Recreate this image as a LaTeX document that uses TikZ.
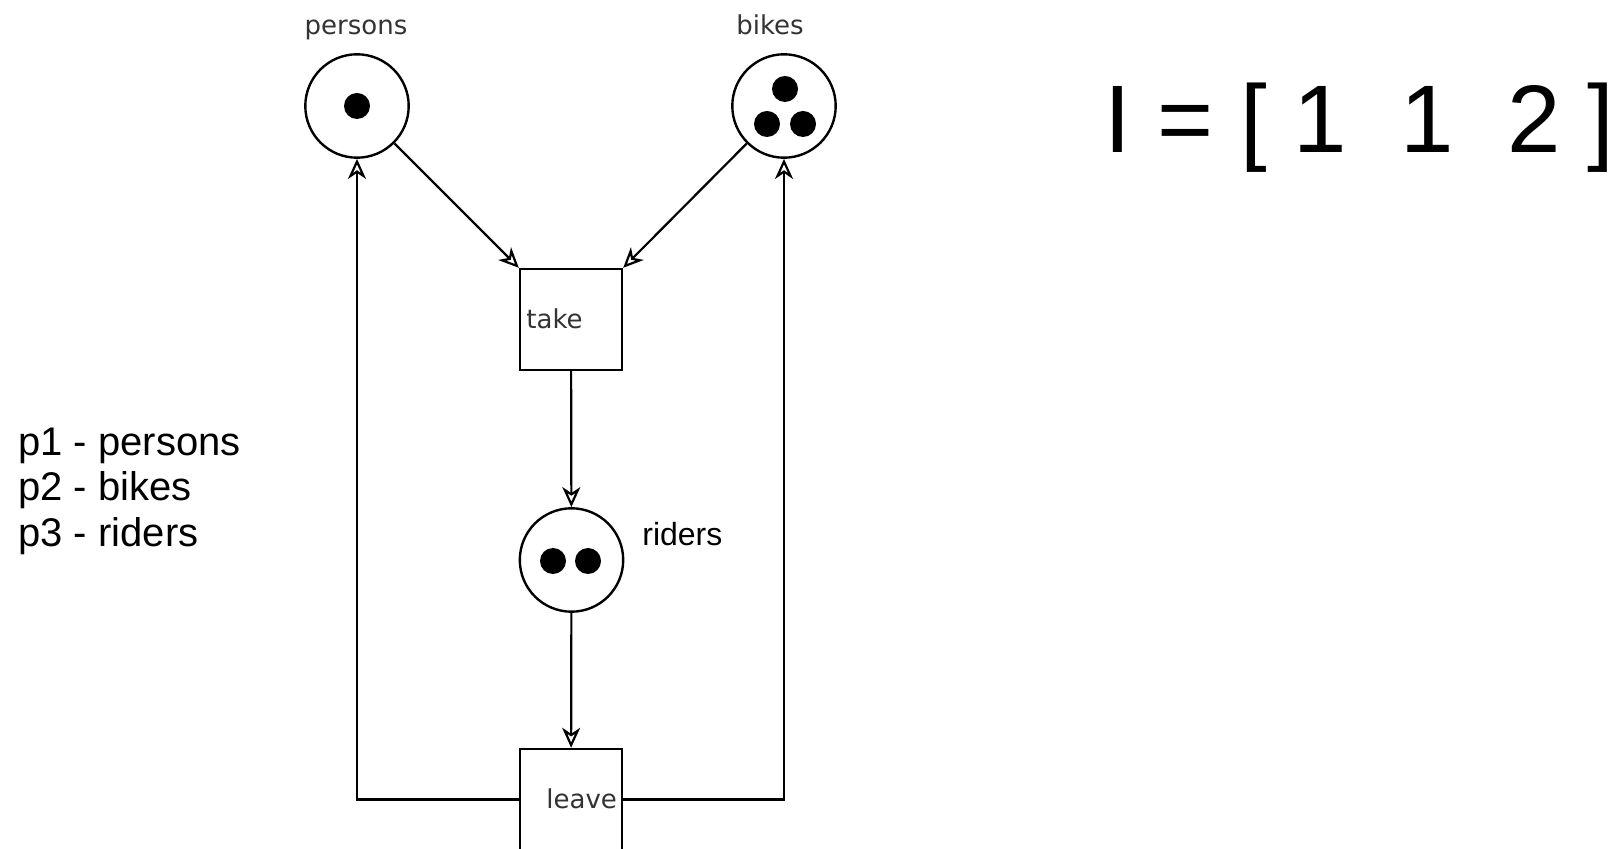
\documentclass[tikz,border=0pt]{standalone}
\usepackage{fontspec}
\setmainfont{Liberation Sans}
\newfontfamily\dejavu{DejaVu Sans}
\usetikzlibrary{arrows.meta}

\tikzset{
  place/.style={circle, draw, line width=1.2pt, minimum size=51.7pt, inner sep=0pt},
  trans/.style={rectangle, draw, line width=1.2pt, minimum width=51pt, minimum height=50.5pt, inner sep=0pt},
  token/.style={circle, fill, minimum size=13pt, inner sep=0pt},
  arc/.style={line width=1.1pt, -{Stealth[open, length=10pt, width=9pt, inset=3pt]}},
  smalllbl/.style={font=\dejavu\fontsize{13}{15}\selectfont, text=black!80, inner sep=0pt},
  biglbl/.style={inner sep=0pt, anchor=base west},
}

\begin{document}
\begin{tikzpicture}[x=0.5pt, y=-0.5pt]
    \useasboundingbox (0,0) rectangle (1618,849);

    % places and transitions
    \node[place] (persons) at (357,106) {};
    \node[place] (bikes) at (784,106) {};
    \node[trans] (take) at (571,319.5) {};
    \node[place] (riders) at (571.5,560) {};
    \node[trans] (leave) at (571,799.5) {};

    % tokens
    \node[token] (tokp) at (357,106) {};
    \node[token] (tokba) at (785,89) {};
    \node[token] (tokbb) at (767,124) {};
    \node[token] (tokbc) at (803,124) {};
    \node[token] (tokra) at (553,561) {};
    \node[token] (tokrb) at (588,561) {};

    % arcs
    \draw[arc] (persons) -- (take.north west);
    \draw[arc] (bikes) -- (take.north east);
    \draw[arc] (take) -- (riders);
    \draw[arc] (riders) -- (leave);
    \draw[arc] (leave.west) -| (persons);
    \draw[arc] (leave.east) -| (bikes);

    % labels
    \node[smalllbl, anchor=base] (personslbl) at (356,35) {persons};
    \node[smalllbl, anchor=base] (bikeslbl) at (770,35) {bikes};
    \node[smalllbl, anchor=base west] (takelbl) at (526,329) {take};
    \node[smalllbl, anchor=base west] (leavelbl) at (546,809) {leave};
    \node[biglbl, font=\fontsize{16}{19}\selectfont] (riderslbl) at (642,546) {riders};

    % legend
    \node[biglbl, font=\fontsize{20}{23}\selectfont] (legone) at (18,456) {p1 - persons};
    \node[biglbl, font=\fontsize{20}{23}\selectfont] (legtwo) at (18,501) {p2 - bikes};
    \node[biglbl, font=\fontsize{20}{23}\selectfont] (legthree) at (18,547) {p3 - riders};

    % marking
    \node[biglbl, font=\fontsize{48}{56}\selectfont] (marking) at (1104,153) {I = [ 1\ \ 1\ \ 2 ]};
\end{tikzpicture}
\end{document}
